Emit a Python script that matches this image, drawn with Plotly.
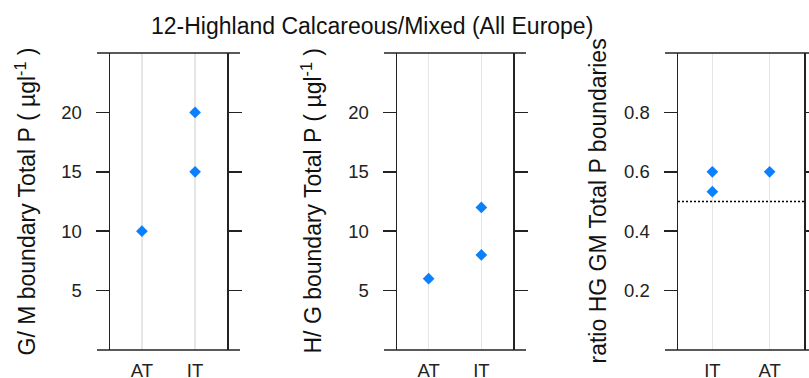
import plotly.graph_objects as go

# ---- data ----
title_text = "12-Highland Calcareous/Mixed (All Europe)"

gm_countries = ["AT", "IT", "IT"]
gm_values = [10, 15, 20]

hg_countries = ["AT", "IT", "IT"]
hg_values = [6, 8, 12]

ratio_countries = ["IT", "IT", "AT"]
ratio_values = [0.6, 0.533, 0.6]

cat_order_12 = ["AT", "IT"]
cat_order_3 = ["IT", "AT"]

ref_ratio = 0.5

y_ticks_tp = [5, 10, 15, 20]
y_ticks_ratio = [0.2, 0.4, 0.6, 0.8]

ytitle1 = "G/ M boundary Total P ( \u00b5gl<sup>-1</sup> )"
ytitle2 = "H/ G boundary Total P ( \u00b5gl<sup>-1</sup> )"
ytitle3 = "ratio HG GM Total P boundaries"

# ---- layout constants ----
W, H = 809, 378
FONT = "Arial, Liberation Sans, sans-serif"
MARKER_COLOR = "#0a80ff"
LINE_COLOR = "#222222"

dom_x = [(110 / W, 227 / W), (397 / W, 513 / W), (678 / W, 804 / W)]
dom_y = (28 / H, 325 / H)

fig = go.Figure()

def add_panel(i, cats, vals):
    sfx = "" if i == 1 else str(i)
    fig.add_trace(go.Scatter(
        x=cats, y=vals, mode="markers",
        marker=dict(symbol="diamond", size=9, color=MARKER_COLOR, line=dict(width=0)),
        xaxis="x" + sfx, yaxis="y" + sfx, showlegend=False, cliponaxis=False,
        hoverinfo="skip",
    ))

add_panel(1, gm_countries, gm_values)
add_panel(2, hg_countries, hg_values)
add_panel(3, ratio_countries, ratio_values)

tickfont = dict(family=FONT, size=18.5, color="#222222")

def xaxis_cfg(i, order):
    return dict(
        domain=list(dom_x[i - 1]),
        anchor="y" if i == 1 else "y" + str(i),
        type="category", categoryorder="array", categoryarray=order,
        range=[-0.6, 1.6],
        showgrid=True, gridcolor="#e6e6e6", gridwidth=1.5,
        showline=False,
        ticks="outside", ticklen=0, tickfont=tickfont,
        ticklabelstandoff=4, automargin=False,
        zeroline=False, fixedrange=True,
    )

def yaxis_cfg(i, rng, tickvals):
    return dict(
        domain=list(dom_y),
        anchor="x" if i == 1 else "x" + str(i),
        range=rng, tickvals=tickvals,
        showgrid=False, zeroline=False,
        showline=True, mirror="ticks", linecolor=LINE_COLOR, linewidth=1.5,
        ticks="outside", ticklen=13, tickwidth=1.5, tickcolor=LINE_COLOR,
        tickfont=tickfont, ticklabelstandoff=10, automargin=False, fixedrange=True,
    )

shapes = []
# extended top/bottom frame lines and reference line
for i in (1, 2, 3):
    sfx = "" if i == 1 else str(i)
    width_px = (dom_x[i - 1][1] - dom_x[i - 1][0]) * W
    ext = 13 / width_px
    for yv in (0, 1):
        shapes.append(dict(
            type="line", xref="x" + sfx + " domain", yref="y" + sfx + " domain",
            x0=-ext, x1=1 + ext, y0=yv, y1=yv,
            line=dict(color=LINE_COLOR, width=1.5), layer="above",
        ))
shapes.append(dict(
    type="line", xref="x3 domain", yref="y3", x0=0, x1=1, y0=ref_ratio, y1=ref_ratio,
    line=dict(color="black", width=1.5, dash="2px,2px"), layer="below",
))

ymid = (dom_y[0] + dom_y[1]) / 2
annotations = [
    dict(text=title_text, xref="paper", yref="paper", x=372 / W, y=1 - 26 / H,
         xanchor="center", yanchor="middle", showarrow=False,
         font=dict(family=FONT, size=23, color="#111111")),
]
for xpix, t in ((26, ytitle1), (312, ytitle2), (598, ytitle3)):
    annotations.append(dict(
        text=t, xref="paper", yref="paper", x=xpix / W, y=ymid,
        xanchor="center", yanchor="middle", textangle=-90, showarrow=False,
        font=dict(family=FONT, size=23, color="#111111"),
    ))

fig.update_layout(
    template="none",
    width=W, height=H, autosize=False,
    margin=dict(l=0, r=0, t=0, b=0),
    paper_bgcolor="white", plot_bgcolor="white",
    hovermode=False,
    xaxis=xaxis_cfg(1, cat_order_12),
    xaxis2=xaxis_cfg(2, cat_order_12),
    xaxis3=xaxis_cfg(3, cat_order_3),
    yaxis=yaxis_cfg(1, [0, 25], y_ticks_tp),
    yaxis2=yaxis_cfg(2, [0, 25], y_ticks_tp),
    yaxis3=yaxis_cfg(3, [0, 1], y_ticks_ratio),
    shapes=shapes, annotations=annotations,
)

fig.write_html(
    "out.html",
    config={"displayModeBar": False, "staticPlot": True},
    post_script="document.body.style.margin='0';document.body.style.overflow='hidden';",
)
